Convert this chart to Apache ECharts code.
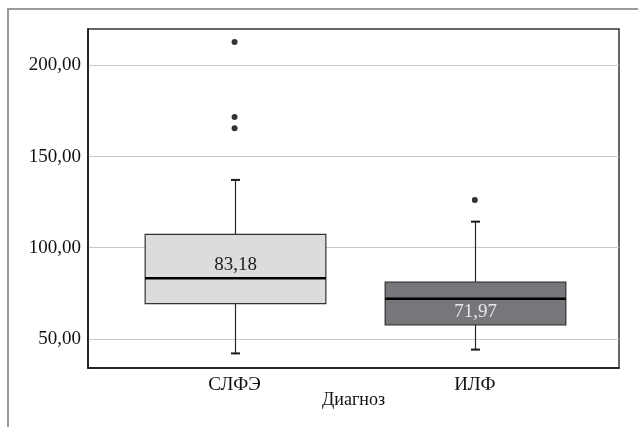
<!DOCTYPE html>
<html>
<head>
<meta charset="utf-8">
<script src="https://cdn.jsdelivr.net/npm/echarts@6/dist/echarts.min.js"></script>
<style>
  html, body { margin: 0; padding: 0; background: #fff; }
  #wrap { position: relative; width: 638px; height: 427px; overflow: hidden; }
  #frame { position: absolute; left: 7px; top: 8px; right: -4px; bottom: -4px;
           border-top: 2px solid #9a9a9a; border-left: 2px solid #9a9a9a; pointer-events: none; }
  #chart { position: absolute; left: 0; top: 0; width: 638px; height: 427px; }
</style>
</head>
<body>
<div id="wrap">
  <div id="chart"></div>
  <div id="frame"></div>
</div>
<script>
// ---- data ----
const categories = ['СЛФЭ', 'ИЛФ'];
const whiskerLow = [42.0, 44.1];
const q1 = [69.3, 57.7];
const median = [83.18, 71.97];
const q3 = [107.3, 81.1];
const whiskerHigh = [137.2, 114.3];
const medianLabels = ['83,18', '71,97'];
const outlierCat = [0, 0, 0, 1];
const outlierVal = [212.9, 171.7, 165.6, 126.2];
const yTicks = [50, 100, 150, 200];
const xTicks = [0, 1];
const axisTitleX = 'Диагноз';

// ---- styles ----
const FONT = "'Liberation Serif', 'Times New Roman', serif";
const boxFills = ['#dcdcde', '#76777b'];
const labelColors = ['#1a1a1a', '#e8e8e8'];
const BOX_HALF = 0.376;   // half box width in axis units
const CAP_HALF = 4.5;     // px

const boxData = categories.map((c, i) => [i, whiskerLow[i], q1[i], median[i], q3[i], whiskerHigh[i]]);
const outlierData = outlierCat.map((c, i) => [c, outlierVal[i]]);

function renderBox(params, api) {
  const i = params.dataIndex;
  const x = api.value(0);
  const pLow = api.coord([x, api.value(1)]);
  const pQ1 = api.coord([x, api.value(2)]);
  const pMed = api.coord([x, api.value(3)]);
  const pQ3 = api.coord([x, api.value(4)]);
  const pHigh = api.coord([x, api.value(5)]);
  const cx = Math.round(pMed[0]) + 0.5;
  const hw = api.size([BOX_HALF, 0])[0];
  const lineStyle = { stroke: '#2a2a2a', lineWidth: 1.2 };
  const capStyle = { stroke: '#1a1a1a', lineWidth: 2 };
  const above = (pMed[1] - pQ3[1]) > 22;
  return {
    type: 'group',
    children: [
      { type: 'line', shape: { x1: cx, y1: pQ3[1], x2: cx, y2: pHigh[1] }, style: lineStyle },
      { type: 'line', shape: { x1: cx, y1: pQ1[1], x2: cx, y2: pLow[1] }, style: lineStyle },
      { type: 'line', shape: { x1: cx - CAP_HALF, y1: pHigh[1], x2: cx + CAP_HALF, y2: pHigh[1] }, style: capStyle },
      { type: 'line', shape: { x1: cx - CAP_HALF, y1: pLow[1], x2: cx + CAP_HALF, y2: pLow[1] }, style: capStyle },
      { type: 'rect', shape: { x: cx - hw, y: pQ3[1], width: 2 * hw, height: pQ1[1] - pQ3[1] },
        style: { fill: boxFills[i], stroke: '#333', lineWidth: 1.2 } },
      { type: 'line', shape: { x1: cx - hw, y1: pMed[1], x2: cx + hw, y2: pMed[1] },
        style: { stroke: '#000', lineWidth: 2.5 } },
      { type: 'text', x: cx, y: above ? pMed[1] - 4 : pMed[1] + 4,
        style: { text: medianLabels[i], fill: labelColors[i], font: '19px ' + FONT,
                 align: 'center', verticalAlign: above ? 'bottom' : 'top' } }
    ]
  };
}

const chart = echarts.init(document.getElementById('chart'), null, { renderer: 'canvas' });
chart.setOption({
  animation: false,
  backgroundColor: '#fff',
  grid: { left: 88, top: 29, right: 19, bottom: 59, show: true, borderColor: '#333', borderWidth: 1.5, backgroundColor: 'transparent' },
  xAxis: {
    type: 'value', min: -0.61, max: 1.6,
    axisLine: { show: true, onZero: false, lineStyle: { color: '#111', width: 1.5 } },
    axisTick: { show: false, customValues: xTicks },
    splitLine: { show: false },
    axisLabel: { customValues: xTicks, formatter: v => categories[Math.round(v)], fontFamily: FONT, fontSize: 19, color: '#111', margin: 8 },
    name: axisTitleX, nameLocation: 'middle', nameGap: 23, nameMoveOverlap: false,
    nameTextStyle: { fontFamily: FONT, fontSize: 18, color: '#111', verticalAlign: 'top' }
  },
  yAxis: {
    type: 'value', min: 34, max: 220,
    axisLine: { show: true, onZero: false, lineStyle: { color: '#111', width: 1.5 } },
    axisTick: { show: false, customValues: yTicks },
    splitLine: { show: true, lineStyle: { color: '#c8c8c8', width: 1 } },
    axisLabel: { customValues: yTicks, formatter: v => v.toFixed(2).replace('.', ','), fontFamily: FONT, fontSize: 19, color: '#111', margin: 7 }
  },
  series: [
    { type: 'custom', renderItem: renderBox, data: boxData, encode: { x: 0, y: [1, 2, 3, 4, 5] }, z: 3 },
    { type: 'scatter', data: outlierData, symbol: 'circle', symbolSize: 6, itemStyle: { color: '#000' }, z: 4 }
  ]
});
</script>
</body>
</html>
